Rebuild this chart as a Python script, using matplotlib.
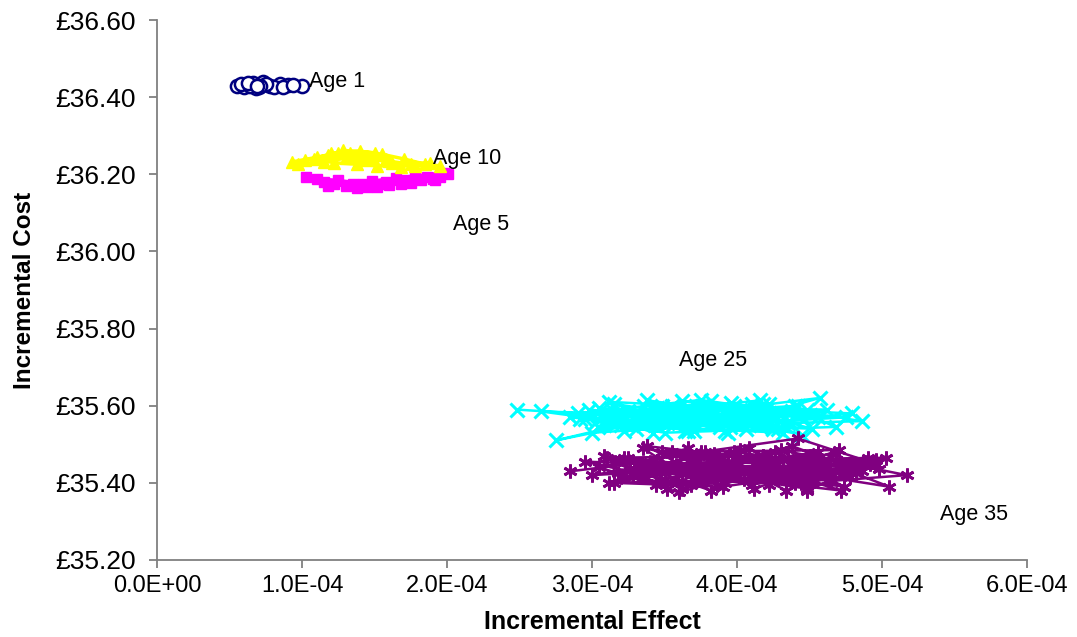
import numpy as np
import matplotlib
matplotlib.use("Agg")
import matplotlib.pyplot as plt
from matplotlib.ticker import FuncFormatter, MultipleLocator

plt.rcParams['font.family'] = ['Liberation Sans', 'DejaVu Sans']

# incremental effect in units of 1e-4, incremental cost in pounds
age1_x = [0.55, 0.62, 0.70, 0.66, 0.78, 0.60, 0.85, 0.73, 0.68, 0.90,
          0.58, 0.81, 0.64, 0.75, 1.00, 0.71, 0.87, 0.63, 0.94, 0.69]
age1_y = [36.428, 36.432, 36.425, 36.436, 36.430, 36.426, 36.433, 36.438, 36.424, 36.431,
          36.435, 36.427, 36.429, 36.434, 36.428, 36.430, 36.426, 36.437, 36.432, 36.428]

age5_x = [1.03, 1.15, 1.30, 1.45, 1.60, 1.75, 1.90, 2.01, 1.95, 1.82,
          1.68, 1.52, 1.38, 1.22, 1.10, 1.25, 1.42, 1.58, 1.72, 1.86,
          1.98, 1.65, 1.48, 1.35, 1.18, 1.55, 1.78, 1.92]
age5_y = [36.192, 36.180, 36.170, 36.166, 36.172, 36.178, 36.188, 36.200, 36.194, 36.184,
          36.176, 36.168, 36.164, 36.176, 36.188, 36.184, 36.176, 36.180, 36.186, 36.194,
          36.204, 36.190, 36.182, 36.174, 36.170, 36.176, 36.196, 36.186]

age10_x = [0.93, 1.10, 1.25, 1.40, 1.55, 1.70, 1.85, 1.95, 1.78, 1.62,
           1.48, 1.33, 1.18, 1.02, 0.97, 1.15, 1.30, 1.45, 1.60, 1.75,
           1.88, 1.68, 1.52, 1.38, 1.22, 1.08, 1.36, 1.50, 1.28, 1.42,
           1.58, 1.20]
age10_y = [36.232, 36.244, 36.256, 36.260, 36.252, 36.240, 36.226, 36.222, 36.222, 36.228,
           36.246, 36.254, 36.250, 36.236, 36.226, 36.232, 36.242, 36.238, 36.234, 36.226,
           36.230, 36.220, 36.222, 36.226, 36.230, 36.240, 36.248, 36.256, 36.262, 36.246,
           36.240, 36.256]

age25_x = [2.48, 3.10, 3.55, 4.05, 4.57, 3.80, 3.20, 2.75, 3.40, 4.20,
           4.79, 3.95, 3.05, 3.65, 4.35, 4.86, 4.10, 3.30, 2.90, 3.75,
           4.50, 4.68, 3.50, 2.95, 3.85, 4.25, 3.15, 3.60, 4.40, 4.00,
           3.25, 2.85, 3.70, 4.15, 4.62, 3.45, 3.90, 4.30, 3.35, 2.65,
           3.58, 4.08, 4.45, 3.78, 3.00, 4.75, 3.52, 4.22, 3.88, 3.18,
           3.02, 3.48, 3.92, 4.38, 3.12, 3.68, 4.18, 3.28, 3.82, 4.28,
           2.98, 3.42, 3.96, 4.46, 3.22, 3.72, 4.12, 3.38, 3.86, 4.32,
           3.08, 3.62, 4.02, 4.52, 3.32, 3.66, 4.16, 3.46, 3.94, 4.42,
           2.92, 3.56, 4.06, 3.26, 3.76, 4.26, 3.14, 3.64, 4.14, 4.56,
           3.36, 3.84, 4.36, 3.04, 3.54, 3.98, 4.48, 3.24, 3.74, 4.24]
age25_y = [35.590, 35.575, 35.600, 35.565, 35.620, 35.585, 35.550, 35.510, 35.560, 35.590,
           35.580, 35.545, 35.595, 35.570, 35.555, 35.560, 35.605, 35.540, 35.580, 35.615,
           35.575, 35.545, 35.530, 35.565, 35.590, 35.540, 35.605, 35.555, 35.600, 35.575,
           35.585, 35.570, 35.535, 35.560, 35.590, 35.595, 35.560, 35.580, 35.550, 35.585,
           35.575, 35.550, 35.525, 35.600, 35.530, 35.570, 35.580, 35.605, 35.545, 35.565,
           35.555, 35.600, 35.535, 35.585, 35.610, 35.545, 35.605, 35.570, 35.612, 35.540,
           35.590, 35.530, 35.608, 35.565, 35.535, 35.600, 35.575, 35.614, 35.560, 35.530,
           35.550, 35.612, 35.590, 35.540, 35.575, 35.535, 35.614, 35.585, 35.530, 35.600,
           35.565, 35.585, 35.540, 35.560, 35.600, 35.570, 35.590, 35.535, 35.590, 35.570,
           35.600, 35.575, 35.560, 35.545, 35.570, 35.600, 35.590, 35.555, 35.575, 35.545]

age35_x = [2.85, 3.40, 3.95, 4.50, 5.05, 4.20, 3.60, 3.05, 3.75, 4.42,
           4.95, 4.10, 3.25, 3.85, 4.65, 5.17, 4.30, 3.50, 2.95, 3.70,
           4.55, 5.03, 4.00, 3.15, 3.90, 4.80, 4.25, 3.35, 3.62, 4.40,
           4.88, 3.80, 3.00, 4.15, 4.72, 3.45, 3.98, 4.60, 3.20, 3.68,
           4.35, 4.98, 3.55, 4.05, 4.82, 3.30, 3.88, 4.48, 3.10, 4.18,
           3.72, 4.62, 3.92, 4.28,
           3.08, 3.52, 4.02, 4.48, 4.92, 3.28, 3.78, 4.22, 4.68, 3.18,
           3.66, 4.12, 4.58, 3.38, 3.86, 4.32, 4.78, 3.12, 3.58, 4.08,
           4.52, 4.96, 3.32, 3.82, 4.26, 4.74, 3.22, 3.70, 4.18, 4.64,
           3.44, 3.94, 4.38, 4.86, 3.16, 3.62, 4.10, 4.56, 3.36, 3.84,
           4.34, 4.80, 3.26, 3.74, 4.20, 4.70, 3.48, 3.96, 4.44, 4.90]
age35_y = [35.430, 35.455, 35.420, 35.470, 35.390, 35.440, 35.375, 35.440, 35.480, 35.515,
           35.450, 35.395, 35.465, 35.430, 35.405, 35.420, 35.485, 35.410, 35.455, 35.445,
           35.420, 35.465, 35.460, 35.400, 35.390, 35.440, 35.430, 35.490, 35.425, 35.400,
           35.455, 35.470, 35.420, 35.445, 35.380, 35.435, 35.480, 35.450, 35.415, 35.395,
           35.465, 35.435, 35.480, 35.410, 35.425, 35.445, 35.455, 35.385, 35.465, 35.470,
           35.410, 35.440, 35.400, 35.425,
           35.470, 35.385, 35.485, 35.380, 35.450, 35.420, 35.480, 35.395, 35.475, 35.425,
           35.490, 35.385, 35.445, 35.495, 35.395, 35.460, 35.415, 35.400, 35.445, 35.490,
           35.400, 35.460, 35.445, 35.380, 35.480, 35.390, 35.465, 35.410, 35.470, 35.425,
           35.395, 35.455, 35.495, 35.430, 35.455, 35.385, 35.430, 35.480, 35.415, 35.475,
           35.380, 35.450, 35.430, 35.470, 35.415, 35.485, 35.480, 35.425, 35.400, 35.465]

labels = ["Age 1", "Age 10", "Age 5", "Age 25", "Age 35"]
label_x = [1.05, 1.90, 2.04, 3.60, 5.40]
label_y = [36.44, 36.242, 36.071, 35.718, 35.317]

scale = 1e-4

fig = plt.figure(figsize=(10.77, 6.37), dpi=100)
ax = fig.add_axes([0.1458, 0.1209, 0.8078, 0.8477])

ax.plot(np.array(age1_x) * scale, age1_y, color='#000080', lw=1.5, marker='o',
        ms=9.5, mfc='white', mec='#000080', mew=1.8)
ax.plot(np.array(age5_x) * scale, age5_y, color='#FF00FF', lw=2.5, marker='s',
        ms=7, mfc='#FF00FF', mec='#FF00FF')
ax.plot(np.array(age10_x) * scale, age10_y, color='#FFFF00', lw=2.5, marker='^',
        ms=8, mfc='#FFFF00', mec='#FFFF00')
ax.plot(np.array(age25_x) * scale, age25_y, color='#00FFFF', lw=1.8, marker='x',
        ms=9.5, mew=2.2)
ax.plot(np.array(age35_x) * scale, age35_y, color='#800080', lw=1.8, marker=(6, 2, 0),
        ms=10, mew=2)

for t, lx, ly in zip(labels, label_x, label_y):
    ax.text(lx * scale, ly, t, fontsize=15.5, ha='left', va='center')

ax.set_xlim(0, 6e-4)
ax.set_ylim(35.2, 36.6)
ax.xaxis.set_major_locator(MultipleLocator(1e-4))
ax.yaxis.set_major_locator(MultipleLocator(0.2))
ax.xaxis.set_major_formatter(FuncFormatter(lambda v, p: "{:.1E}".format(v)))
ax.yaxis.set_major_formatter(FuncFormatter(lambda v, p: "£{:.2f}".format(v)))

for s in ['top', 'right']:
    ax.spines[s].set_visible(False)
for s in ['left', 'bottom']:
    ax.spines[s].set_color('#808080')
    ax.spines[s].set_linewidth(1.3)
ax.tick_params(direction='out', length=6, width=1.3, color='#808080', labelcolor='black')
ax.tick_params(axis='y', labelsize=19, pad=9)
ax.tick_params(axis='x', labelsize=17, pad=5)

ax.set_xlabel("Incremental Effect", fontsize=18, fontweight='bold', labelpad=9)
ax.set_ylabel("Incremental Cost", fontsize=17.5, fontweight='bold', labelpad=14)

fig.savefig("out.png", dpi=100)
